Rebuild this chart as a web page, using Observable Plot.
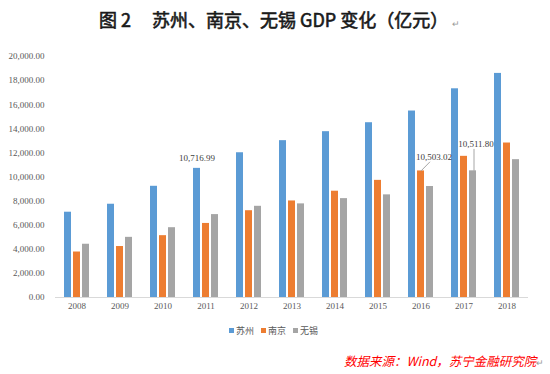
<!DOCTYPE html>
<html>
<head>
<meta charset="utf-8">
<script src="https://cdn.jsdelivr.net/npm/d3@7"></script>
<script src="https://cdn.jsdelivr.net/npm/@observablehq/plot@0.6"></script>
<style>
  html, body { margin: 0; padding: 0; background: #fff; }
  #wrap { position: relative; width: 550px; height: 374px; overflow: hidden; }
  #title { position: absolute; left: 99px; top: 6px; font-family: "Noto Sans CJK SC", sans-serif; font-weight: normal; -webkit-text-stroke: 0.6px #1a1a1a; font-size: 18px; color: #1a1a1a; white-space: pre; }
  #title .main { margin-left: 21px; letter-spacing: 0; }
  #title .ret { font-size: 9px; color: #999; -webkit-text-stroke: 0; margin-left: 4px; }
  #legend { position: absolute; left: 229px; top: 324px; font-family: "Noto Sans CJK SC", sans-serif; font-size: 9px; color: #595959; display: flex; gap: 7px; }
  #legend span.sw { display: inline-block; width: 5px; height: 5px; margin-right: 2px; vertical-align: 1px; }
  #source { position: absolute; left: 344px; top: 351px; font-family: "Noto Sans CJK SC", sans-serif; font-style: italic; font-size: 12.5px; color: #ff0000; white-space: pre; }
  #source .ret { font-style: normal; color: #999; font-size: 9px; }
  #chart { position: absolute; left: 0; top: 0; }
</style>
</head>
<body>
<div id="wrap">
  <div id="chart"></div>
  <div id="title"><span>图 2</span><span class="main">苏州、南京、无锡 GDP 变化（亿元）</span><span class="ret">↵</span></div>
  <div id="legend"></div>
  <div id="source">数据来源：Wind，苏宁金融研究院<span class="ret">↵</span></div>
</div>
<script>
const years = ["2008","2009","2010","2011","2012","2013","2014","2015","2016","2017","2018"];
const seriesNames = ["苏州","南京","无锡"];
const suzhou = [7078, 7740, 9229, 10716.99, 12012, 13016, 13761, 14504, 15475, 17320, 18597];
const nanjing = [3775, 4230, 5131, 6146, 7202, 8012, 8821, 9721, 10503.02, 11715, 12820];
const wuxi = [4419, 4992, 5793, 6880, 7568, 7770, 8205, 8518, 9210, 10511.80, 11439];
const colors = ["#5b9bd5", "#ed7d31", "#a5a5a5"];
const yTicks = [0, 2000, 4000, 6000, 8000, 10000, 12000, 14000, 16000, 18000, 20000];

const seriesValues = [suzhou, nanjing, wuxi];
const data = [];
years.forEach((y, i) => {
  seriesNames.forEach((s, j) => data.push({year: y, series: s, value: seriesValues[j][i]}));
});
const pick = (y, s) => data.filter(d => d.year === y && d.series === s);
const fmt = d3.format(",.2f");

const chart = Plot.plot({
  width: 550,
  height: 374,
  marginTop: 56,
  marginBottom: 77,
  marginLeft: 51,
  marginRight: 18,
  style: {fontFamily: "'Liberation Serif', serif", fontSize: "9px", color: "#595959", background: "transparent"},
  fx: {domain: years, padding: 0, axis: "bottom", tickSize: 0, tickPadding: 5, label: null},
  x: {domain: seriesNames, paddingInner: 0.2, paddingOuter: 0.79, axis: null},
  y: {domain: [0, 20000], ticks: yTicks, tickFormat: fmt, tickSize: 0, tickPadding: 11, label: null},
  color: {domain: seriesNames, range: colors},
  marks: [
    Plot.barY(data, {fx: "year", x: "series", y: "value", fill: "series"}),
    Plot.ruleY([0], {stroke: "#d9d9d9", strokeWidth: 1}),
    Plot.text(pick("2011", "苏州"), {fx: "year", x: "series", y: "value", text: d => fmt(d.value), dy: -10, fill: "#404040"}),
    Plot.link(pick("2016", "南京"), {fx: "year", x1: "series", x2: () => "无锡", y1: "value", y2: d => d.value + 760, stroke: "#a6a6a6"}),
    Plot.text(pick("2016", "南京"), {fx: "year", x: "series", y: "value", text: d => fmt(d.value), dx: 13, dy: -14, fill: "#404040"}),
    Plot.link(pick("2017", "无锡"), {fx: "year", x1: "series", x2: "series", y1: "value", y2: d => d.value + 1820, stroke: "#a6a6a6", dx: 1}),
    Plot.text(pick("2017", "无锡"), {fx: "year", x: "series", y: "value", text: d => fmt(d.value), dx: 3, dy: -27, fill: "#404040"})
  ]
});
document.getElementById("chart").appendChild(chart);

const legend = document.getElementById("legend");
seriesNames.forEach((s, i) => {
  const item = document.createElement("div");
  const sw = document.createElement("span");
  sw.className = "sw";
  sw.style.background = colors[i];
  item.appendChild(sw);
  item.appendChild(document.createTextNode(s));
  legend.appendChild(item);
});
</script>
</body>
</html>
